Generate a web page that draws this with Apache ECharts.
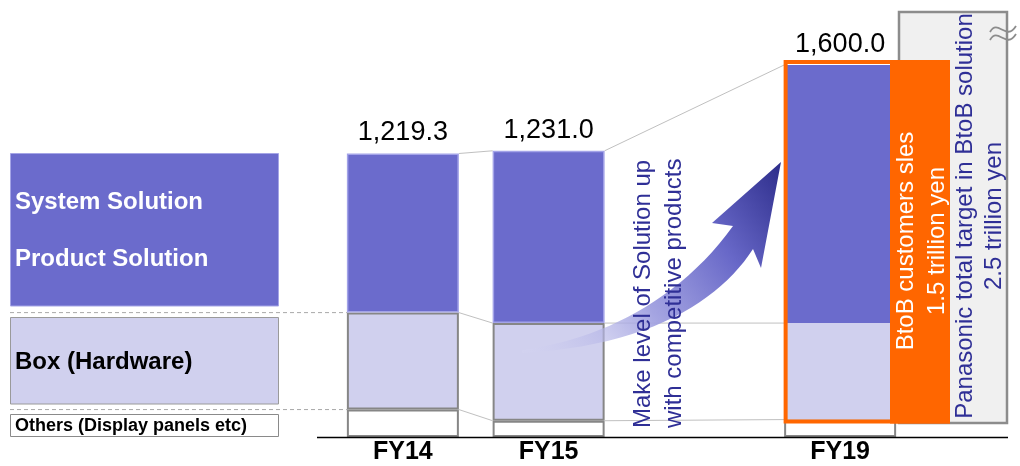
<!DOCTYPE html>
<html>
<head>
<meta charset="utf-8">
<script src="https://cdn.jsdelivr.net/npm/echarts@6/dist/echarts.min.js"></script>
<style>
  html, body { margin: 0; padding: 0; background: #ffffff; }
  #main { width: 1020px; height: 466px; }
</style>
</head>
<body>
<div id="main"></div>
<script>
// Sales by business layer (100 million yen); the empty slot leaves room for the note
const categories = ['FY14', 'FY15', '', 'FY19'];
const othersValues = [118, 70, null, 75];
const boxValues = [417, 420, null, 415];
const solutionValues = [684.3, 741, null, 1110];

const FONT = '"Liberation Sans", Arial, Helvetica, sans-serif';
const NAVY = '#2f2f96';
const ORANGE = '#ff6600';

const totals = categories.map((c, i) =>
  othersValues[i] == null ? null : othersValues[i] + boxValues[i] + solutionValues[i]);
const fmt = v => v == null ? '' :
  v.toLocaleString('en-US', { minimumFractionDigits: 1, maximumFractionDigits: 1 });

const chart = echarts.init(document.getElementById('main'), null, { renderer: 'canvas' });

const lastIdx = categories.length - 1;
const boxData = boxValues.map((v, i) => i === lastIdx
  ? { value: v, itemStyle: { borderWidth: 0 } } : v);
const solData = solutionValues.map((v, i) => i === lastIdx
  ? { value: v, itemStyle: { borderWidth: 0 } } : v);

const option = {
  backgroundColor: '#ffffff',
  animation: false,
  grid: { left: 330, right: 107, top: 65, bottom: 29 },
  xAxis: {
    type: 'category',
    data: categories,
    axisLine: { show: false },
    axisTick: { show: false },
    axisLabel: {
      color: '#000', fontFamily: FONT, fontSize: 25, fontWeight: 'bold',
      margin: 2, lineHeight: 26, interval: 0
    }
  },
  yAxis: {
    type: 'value', min: 0, max: 1600, show: false,
    splitLine: { show: false }
  },
  series: [
    {
      name: 'Others (Display panels etc)', type: 'bar', stack: 'sales', barWidth: 112,
      data: othersValues,
      itemStyle: { color: '#ffffff', borderColor: '#868686', borderWidth: 2 }
    },
    {
      name: 'Box (Hardware)', type: 'bar', stack: 'sales', barWidth: 112,
      data: boxData,
      itemStyle: { color: '#d0d0ee', borderColor: '#868686', borderWidth: 2 }
    },
    {
      name: 'System / Product Solution', type: 'bar', stack: 'sales', barWidth: 112,
      data: solData,
      itemStyle: { color: '#6b6bcc', borderColor: '#a3a3e8', borderWidth: 1.5 },
      label: {
        show: true, position: 'top', distance: 7,
        color: '#000', fontFamily: FONT, fontSize: 27,
        formatter: p => fmt(totals[p.dataIndex])
      }
    }
  ]
};
chart.setOption(option);

// Pixel helpers bound to the grid's own scales
const px = (i, v) => chart.convertToPixel({ gridIndex: 0 }, [i, v]);
const half = 56;
const levels = i => [othersValues[i], othersValues[i] + boxValues[i], totals[i]];

function txt(text, x, y, opts) {
  const o = Object.assign({ size: 24, weight: 'normal', color: '#000', align: 'left', rot: 0, z: 60 }, opts || {});
  return {
    type: 'text', x: x, y: y, rotation: o.rot, z: o.z,
    style: {
      text: text, fill: o.color,
      font: o.weight + ' ' + o.size + 'px ' + FONT,
      align: o.align, verticalAlign: 'middle',
      textAlign: o.align, textVerticalAlign: 'middle'
    }
  };
}

// sample a cubic Bezier into polygon points
function cubic(p0, p1, p2, p3, n) {
  const pts = [];
  for (let k = 0; k <= n; k++) {
    const t = k / n, u = 1 - t;
    pts.push([
      u * u * u * p0[0] + 3 * u * u * t * p1[0] + 3 * u * t * t * p2[0] + t * t * t * p3[0],
      u * u * u * p0[1] + 3 * u * u * t * p1[1] + 3 * u * t * t * p2[1] + t * t * t * p3[1]
    ]);
  }
  return pts;
}

const g = [];
const y0 = px(0, 0)[1];

// baseline
g.push({ type: 'line', z: 40, shape: { x1: 317, y1: y0 + 0.5, x2: 1008, y2: y0 + 0.5 },
  style: { stroke: '#000', lineWidth: 1.5 } });

// connectors between neighbouring bars
function connect(a, b) {
  const la = levels(a), lb = levels(b);
  for (let k = 0; k < 3; k++) {
    const pa = px(a, la[k]), pb = px(b, lb[k]);
    g.push({ type: 'line', z: 5,
      shape: { x1: pa[0] + half, y1: pa[1], x2: pb[0] - half, y2: pb[1] },
      style: { stroke: '#c0c0c0', lineWidth: 1 } });
  }
}
connect(0, 1);
connect(1, 3);

// key on the left with dashed guides to FY14
const l0 = levels(0);
const fy14Left = px(0, 0)[0] - half;
[l0[1], l0[0]].forEach(v => {
  const y = px(0, v)[1];
  g.push({ type: 'line', z: 5, shape: { x1: 10, y1: y, x2: fy14Left, y2: y },
    style: { stroke: '#a8a8a8', lineWidth: 1, lineDash: [4, 3] } });
});
g.push({ type: 'rect', z: 10, shape: { x: 10.5, y: 153.5, width: 268, height: 152.5 },
  style: { fill: '#6b6bcc', stroke: '#a5a5e6', lineWidth: 1 } });
g.push({ type: 'rect', z: 10, shape: { x: 10.5, y: 317.5, width: 268, height: 86.5 },
  style: { fill: '#d0d0ee', stroke: '#9a9a9a', lineWidth: 1 } });
g.push({ type: 'rect', z: 10, shape: { x: 10.5, y: 414.5, width: 268, height: 22 },
  style: { fill: '#ffffff', stroke: '#8a8a8a', lineWidth: 1 } });
g.push(txt('System Solution', 15, 202, { weight: 'bold', color: '#ffffff' }));
g.push(txt('Product Solution', 15, 259, { weight: 'bold', color: '#ffffff' }));
g.push(txt('Box (Hardware)', 15, 362, { weight: 'bold' }));
g.push(txt('Others (Display panels etc)', 15, 426, { weight: 'bold', size: 18 }));

// curved arrow toward FY19
const arrowPts = []
  .concat(cubic([522, 350], [600, 340], [680, 300], [733, 226], 24))
  .concat([[712, 223], [781, 162], [761, 268], [753, 249]])
  .concat(cubic([753, 249], [720, 300], [650, 346], [522, 353], 24));
g.push({
  type: 'polygon', z: 45,
  shape: { points: arrowPts },
  style: {
    fill: new echarts.graphic.LinearGradient(0, 1, 1, 0, [
      { offset: 0, color: 'rgba(214,214,242,0.25)' },
      { offset: 0.4, color: 'rgba(160,160,224,0.95)' },
      { offset: 0.7, color: '#6868c8' },
      { offset: 1, color: '#2c2c8a' }
    ])
  }
});
g.push(txt('Make level of Solution up', 643, 428, { rot: Math.PI / 2, color: NAVY }));
g.push(txt('with competitive products', 674, 428, { rot: Math.PI / 2, color: NAVY }));

// Panasonic total target box (axis broken above)
g.push({ type: 'rect', z: 20, shape: { x: 899, y: 12, width: 108, height: 411 },
  style: { fill: '#f0f0f0', stroke: '#8c8c8c', lineWidth: 2.5 } });
g.push(txt('Panasonic total target in BtoB solution', 965, 216, { rot: Math.PI / 2, color: NAVY, align: 'center', z: 25 }));
g.push(txt('2.5 trillion yen', 994, 216, { rot: Math.PI / 2, color: NAVY, align: 'center', z: 25 }));
// break mark
[0, 8].forEach(d => {
  g.push({ type: 'bezierCurve', z: 26,
    shape: { x1: 990, y1: 32 + d, cpx1: 998, cpy1: 18 + d, cpx2: 1006, cpy2: 42 + d, x2: 1016, y2: 26 + d },
    style: { stroke: '#8c8c8c', lineWidth: 1.8, fill: 'none' } });
});

// BtoB customers frame around FY19
const p19 = px(lastIdx, totals[lastIdx]);
const l19 = px(lastIdx, othersValues[lastIdx]);
const frameLeft = p19[0] - half + 1.5;
const frameTop = p19[1] - 3;
const frameBottom = l19[1] + 2;
g.push({ type: 'rect', z: 30, shape: { x: 890, y: frameTop - 2, width: 60, height: frameBottom - frameTop + 4 },
  style: { fill: ORANGE } });
g.push({ type: 'rect', z: 31, shape: { x: frameLeft, y: frameTop, width: 950 - frameLeft - 2, height: frameBottom - frameTop },
  style: { fill: 'none', stroke: ORANGE, lineWidth: 4 } });
g.push(txt('BtoB customers sles', 906, 241, { rot: Math.PI / 2, color: '#ffffff', align: 'center', z: 35 }));
g.push(txt('1.5 trillion yen', 937, 241, { rot: Math.PI / 2, color: '#ffffff', align: 'center', z: 35 }));

chart.setOption({ graphic: { elements: g } });
</script>
</body>
</html>
